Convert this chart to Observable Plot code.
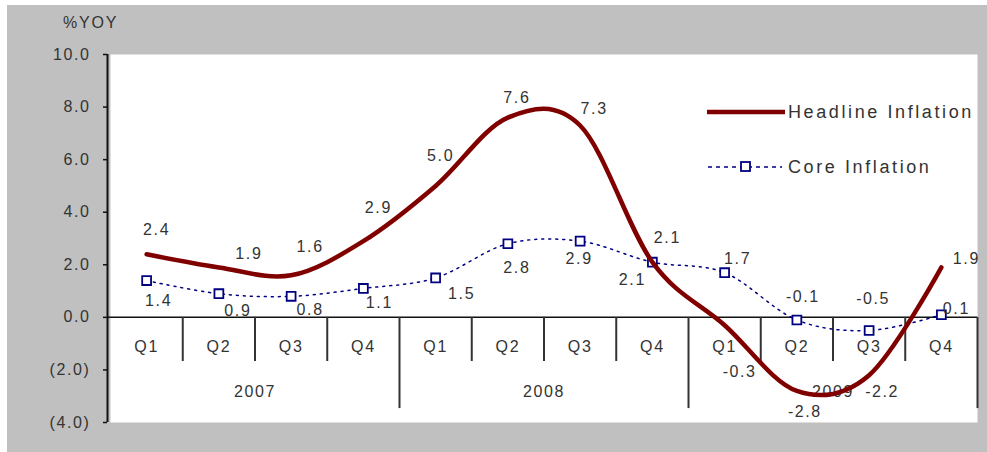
<!DOCTYPE html>
<html>
<head>
<meta charset="utf-8">
<script src="https://cdn.jsdelivr.net/npm/d3@7"></script>
<script src="https://cdn.jsdelivr.net/npm/@observablehq/plot@0.6"></script>
<style>
  html, body { margin: 0; padding: 0; background: #ffffff; }
  #wrap { position: absolute; left: 0; top: 0; width: 987px; height: 452px; background: #ffffff; }
  #chart { position: absolute; left: 7px; top: 5px; }
  #chart svg { background: #c0c0c0; display: block; }
  #chart svg text { letter-spacing: 1.6px; }
  .lbl { position: absolute; font-family: "Liberation Sans", Arial, sans-serif; color: #333; white-space: nowrap; }
</style>
</head>
<body>
<div id="wrap">
  <div id="chart"></div>
  <div class="lbl" id="ylab" style="left:63px; top:14px; font-size:16px; letter-spacing:1.8px;">%YOY</div>
  <div id="legend"></div>
</div>
<script>
// ---- data ----
const quarters = ["Q1","Q2","Q3","Q4","Q1","Q2","Q3","Q4","Q1","Q2","Q3","Q4"];
const years = ["2007","2008","2009"];
const headline = [2.4, 1.9, 1.6, 2.9, 5.0, 7.6, 7.3, 2.1, -0.3, -2.8, -2.2, 1.9];
const core = [1.4, 0.9, 0.8, 1.1, 1.5, 2.8, 2.9, 2.1, 1.7, -0.1, -0.5, 0.1];
const yTicks = [-4, -2, 0, 2, 4, 6, 8, 10];
const seriesNames = ["Headline Inflation", "Core Inflation"];

// ---- layout (label offsets in px) ----
const headlineOffsets = [[10,-24],[30,-14],[19,-28],[15,-33],[5,-30],[9,-20],[14,-17],[15,-24],[15,47],[8,21],[13,17],[25,-9]];
const coreOffsets = [[12,20],[19,17],[19,14],[16,14],[26,16],[9,24],[-1,18],[-20,18],[13,-14],[6,-23],[4,-32],[15,-6]];

const headColor = "#800000";
const coreColor = "#000080";
const textColor = "#333333";
const font = "Liberation Sans, Arial, sans-serif";

const idx = quarters.map((q, i) => i);
const hData = headline.map((v, i) => ({i, v}));
const cData = core.map((v, i) => ({i, v}));
const qBounds = d3.range(1, 13).map(k => k - 0.5);
const yearBounds = qBounds.filter((b, k) => (k + 1) % 4 === 0);
const quarterOnlyBounds = qBounds.filter((b, k) => (k + 1) % 4 !== 0);
const yearData = years.map((y, k) => ({y, x: k * 4 + 1.5}));

const fmtY = d => d < 0 ? `(${(-d).toFixed(1)})` : d.toFixed(1);
const fmtV = d => d.toFixed(1);

const labelMarks = (data, offsets) => data.map((d, k) =>
  Plot.text([d], {x: "i", y: "v", text: d => fmtV(d.v), dx: offsets[k][0], dy: offsets[k][1],
    fill: textColor, fontSize: 16}));

const plot = Plot.plot({
  width: 980,
  height: 447,
  marginLeft: 103,
  marginRight: 10,
  marginTop: 49,
  marginBottom: 30,
  style: {fontFamily: font, fontSize: "16px", color: textColor, background: "#c0c0c0"},
  x: {domain: [-0.5, 11.5], axis: null},
  y: {domain: [-4, 10], axis: null},
  marks: [
    Plot.frame({fill: "white", stroke: "none"}),
    Plot.axisY(yTicks, {tickSize: 4, tickPadding: 13, dx: -3, tickFormat: fmtY, fontSize: 16, stroke: "#111", strokeWidth: 1.5, fill: textColor, label: null}),
    Plot.ruleX([-0.5], {y1: -4, y2: 10, dx: -3, stroke: "#111", strokeWidth: 2}),
    Plot.ruleY([0], {stroke: "#111", strokeWidth: 1.5, insetLeft: -3}),
    Plot.ruleX(quarterOnlyBounds, {y1: 0, y2: -1.68, stroke: "#333", strokeWidth: 2}),
    Plot.ruleX(yearBounds, {y1: 0, y2: -3.47, stroke: "#333", strokeWidth: 2}),
    Plot.text(idx, {x: d => d, y: 0, text: d => quarters[d], dy: 30, fill: textColor, fontSize: 16}),
    Plot.text(yearData, {x: "x", y: () => 0, text: "y", dy: 75, fill: textColor, fontSize: 16}),
    Plot.line(cData, {x: "i", y: "v", curve: "cardinal", stroke: coreColor, strokeWidth: 1.5, strokeDasharray: "2,5"}),
    Plot.dot(cData, {x: "i", y: "v", symbol: "square", r: 5, stroke: coreColor, strokeWidth: 1.8, fill: "white"}),
    Plot.line(hData, {x: "i", y: "v", curve: "cardinal", stroke: headColor, strokeWidth: 4.5}),
    ...labelMarks(hData, headlineOffsets),
    ...labelMarks(cData, coreOffsets)
  ]
});
document.getElementById("chart").appendChild(plot);

// legend
const legend = document.getElementById("legend");
legend.innerHTML = `
  <svg style="position:absolute; left:705px; top:100px;" width="82" height="80">
    <line x1="2" x2="80" y1="12" y2="12" stroke="${headColor}" stroke-width="4.5"/>
    <line x1="3" x2="77" y1="67" y2="67" stroke="${coreColor}" stroke-width="1.5" stroke-dasharray="4,4"/>
    <rect x="36" y="62" width="9" height="9" fill="white" stroke="${coreColor}" stroke-width="1.8"/>
  </svg>
  <div class="lbl" style="left:788px; top:100px; font-size:18px; letter-spacing:2.6px; line-height:24px;">${seriesNames[0]}</div>
  <div class="lbl" style="left:788px; top:155px; font-size:18px; letter-spacing:2.6px; line-height:24px;">${seriesNames[1]}</div>
`;
</script>
</body>
</html>
